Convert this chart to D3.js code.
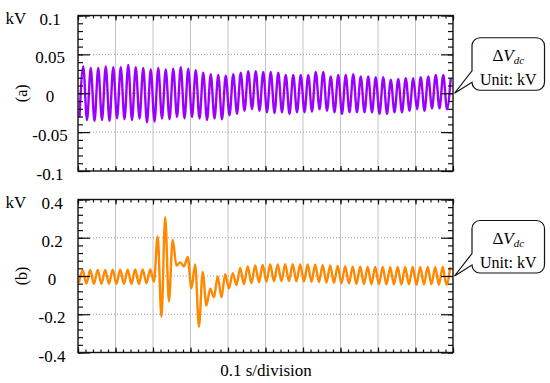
<!DOCTYPE html>
<html>
<head>
<meta charset="utf-8">
<script src="https://cdn.jsdelivr.net/npm/d3@7"></script>
<style>
  body { margin: 0; background: #fff; }
  svg { display: block; }
  text { font-family: "Liberation Serif", "Times New Roman", Times, "DejaVu Serif", serif; }
</style>
</head>
<body>
<div id="chart"></div>
<script>
// 0.1 s per division, 10 divisions
const timeDomain = [0, 1];
const halfCycle = 0.01; // ripple extrema come every half cycle (50 Hz)

// (a) dc voltage ripple, troughs and peaks read per cycle (kV)
const firstTroughA = 0.004;
const troughsA = [-0.0305, -0.0345, -0.0355, -0.0345, -0.0355, -0.0325, -0.0335, -0.0345, -0.0325, -0.0375,
  -0.0365, -0.0325, -0.0335, -0.0305, -0.0325, -0.0305, -0.0325, -0.0345, -0.0325, -0.0335,
  -0.0285, -0.0265, -0.0225, -0.0205, -0.0225, -0.0245, -0.0255, -0.0245, -0.0265, -0.0245,
  -0.0245, -0.0235, -0.0205, -0.0225, -0.0245, -0.0265, -0.0245, -0.0245, -0.0245, -0.0245,
  -0.0265, -0.0265, -0.0245, -0.0245, -0.0225, -0.0205, -0.0225, -0.0195, -0.0195, -0.0205];
const peaksA = [0.0345, 0.0325, 0.0325, 0.0345, 0.0335, 0.0335, 0.0365, 0.0335, 0.0325, 0.0305,
  0.0325, 0.0305, 0.0315, 0.0335, 0.0315, 0.0295, 0.0265, 0.0245, 0.0235, 0.0225,
  0.0245, 0.0265, 0.0285, 0.0285, 0.0275, 0.0275, 0.0265, 0.0235, 0.0235, 0.0235,
  0.0235, 0.0275, 0.0275, 0.0215, 0.0235, 0.0235, 0.0245, 0.0215, 0.0215, 0.0205,
  0.0205, 0.0175, 0.0185, 0.0195, 0.0195, 0.0205, 0.0215, 0.0235, 0.0235, 0.0195];

// (b) dc voltage with the disturbance (kV)
const firstTroughB = 0.0025;
const troughsB = [-0.035, -0.040, -0.041, -0.041, -0.041, -0.041, -0.041, -0.041, -0.041, -0.038,
  -0.030, -0.213, -0.133, 0.054, 0.050, -0.064, -0.265, -0.155, -0.112, -0.112,
  -0.065, -0.047, -0.042, -0.037, -0.033, -0.030, -0.028, -0.027, -0.027, -0.028,
  -0.029, -0.030, -0.032, -0.034, -0.036, -0.038, -0.040, -0.041, -0.042, -0.043,
  -0.043, -0.044, -0.044, -0.045, -0.044, -0.046, -0.045, -0.044, -0.046, -0.045];
const peaksB = [0.030, 0.031, 0.032, 0.032, 0.033, 0.033, 0.033, 0.034, 0.034, 0.034,
  0.207, 0.308, 0.190, 0.071, 0.100, 0.060, 0.021, -0.066, -0.002, 0.010,
  0.015, 0.042, 0.050, 0.055, 0.058, 0.060, 0.061, 0.062, 0.062, 0.061,
  0.060, 0.059, 0.057, 0.055, 0.053, 0.051, 0.049, 0.048, 0.047, 0.047,
  0.047, 0.046, 0.047, 0.046, 0.047, 0.046, 0.047, 0.046, 0.047, 0.046];

// y tick values and their labels
const ticksA = [0.1, 0.05, 0, -0.05, -0.1];
const labelsA = ["0.1", "0.05", "0", "-0.05", "-0.1"];
const ticksB = [0.4, 0.2, 0, -0.2, -0.4];
const labelsB = ["0.4", "0.2", "0", "-0.2", "-0.4"];

const width = 550, height = 383;
const left = 78, right = 453;
const serif = "'Liberation Serif', 'Times New Roman', Times, 'DejaVu Serif', serif";

const svg = d3.select("#chart").append("svg")
  .attr("width", width)
  .attr("height", height)
  .attr("font-family", serif);

const x = d3.scaleLinear().domain(timeDomain).range([left, right]);

// alternate trough / peak into [t, v] pairs
function extrema(t0, troughs, peaks) {
  const pts = [];
  troughs.forEach((v, k) => {
    pts.push([t0 + 2 * k * halfCycle, v]);
    pts.push([t0 + (2 * k + 1) * halfCycle, peaks[k]]);
  });
  return pts;
}

const panels = [
  { tag: "(a)", top: 15.5, bottom: 171, ticks: ticksA, labels: labelsA, minor: 0.01,
    data: extrema(firstTroughA, troughsA, peaksA), color: "#9b00ff", labelX: 50 },
  { tag: "(b)", top: 199.5, bottom: 352.5, ticks: ticksB, labels: labelsB, minor: 0.04,
    data: extrema(firstTroughB, troughsB, peaksB), color: "#ff8800", labelX: 52 }
];

panels.forEach((p, i) => {
  const lo = d3.min(p.ticks), hi = d3.max(p.ticks);
  const y = d3.scaleLinear().domain([lo, hi]).range([p.bottom, p.top]);
  const g = svg.append("g");

  // vertical grid (solid) and horizontal grid (dotted)
  g.append("g").selectAll("line")
    .data(x.ticks(10).slice(1, -1))
    .enter().append("line")
    .attr("x1", d => x(d)).attr("x2", d => x(d))
    .attr("y1", p.top).attr("y2", p.bottom)
    .attr("stroke", "#c4c4c4").attr("stroke-width", 1);

  g.append("g").selectAll("line")
    .data(p.ticks.slice(1, -1))
    .enter().append("line")
    .attr("x1", left).attr("x2", right)
    .attr("y1", d => y(d)).attr("y2", d => y(d))
    .attr("stroke", "#9a9a9a").attr("stroke-width", 1)
    .attr("stroke-dasharray", "1,2");

  // the waveform
  const clipId = "clip" + i;
  svg.append("clipPath").attr("id", clipId)
    .append("rect")
    .attr("x", left).attr("y", p.top)
    .attr("width", right - left).attr("height", p.bottom - p.top);

  const line = d3.line()
    .x(d => x(d[0]))
    .y(d => y(d[1]))
    .curve(d3.curveMonotoneX);

  g.append("path")
    .datum(p.data)
    .attr("clip-path", `url(#${clipId})`)
    .attr("fill", "none")
    .attr("stroke", p.color)
    .attr("stroke-width", 2.4)
    .attr("stroke-linejoin", "round")
    .attr("d", line);

  // inward ticks on all four sides
  const minorY = d3.range(lo, hi + 1e-9, p.minor);
  const axes = [
    [d3.axisBottom(x).tickValues(x.ticks(50)).tickSize(-3), `translate(0,${p.bottom})`],
    [d3.axisBottom(x).tickValues(x.ticks(10)).tickSize(-5), `translate(0,${p.bottom})`],
    [d3.axisTop(x).tickValues(x.ticks(50)).tickSize(-3), `translate(0,${p.top})`],
    [d3.axisTop(x).tickValues(x.ticks(10)).tickSize(-5), `translate(0,${p.top})`],
    [d3.axisLeft(y).tickValues(minorY).tickSize(-5), `translate(${left},0)`],
    [d3.axisLeft(y).tickValues(p.ticks).tickSize(-12), `translate(${left},0)`],
    [d3.axisRight(y).tickValues(minorY).tickSize(-5), `translate(${right},0)`],
    [d3.axisRight(y).tickValues(p.ticks).tickSize(-12), `translate(${right},0)`]
  ];
  axes.forEach(([ax, tr]) => {
    const a = g.append("g").attr("transform", tr).call(ax.tickFormat(""));
    a.select(".domain").remove();
    a.selectAll("line").attr("stroke", "#111").attr("stroke-width", 1.2);
  });

  // frame
  g.append("rect")
    .attr("x", left).attr("y", p.top)
    .attr("width", right - left).attr("height", p.bottom - p.top)
    .attr("fill", "none").attr("stroke", "#111").attr("stroke-width", 1.4);

  // y labels
  g.append("g").selectAll("text")
    .data(p.ticks)
    .enter().append("text")
    .attr("x", p.labelX)
    .attr("y", d => y(d) + 9)
    .attr("text-anchor", "middle")
    .attr("font-family", serif)
    .attr("font-size", 17)
    .text((d, j) => p.labels[j]);

  g.append("text")
    .attr("x", 16).attr("y", p.top + 8)
    .attr("text-anchor", "middle")
    .attr("font-family", serif)
    .attr("font-size", 17)
    .text("kV");

  g.append("text")
    .attr("transform", `translate(21,${y(0)}) rotate(-90)`)
    .attr("dy", "0.35em")
    .attr("text-anchor", "middle")
    .attr("font-family", serif)
    .attr("font-size", 16)
    .text(p.tag);

  // callout box pointing at the right edge
  const bw = 72.5, bh = 52.5, r = 8;
  const bx = right + 19, by = y(0) - 55.5;
  const tipX = right + 1.5, tipY = y(0);
  g.append("path")
    .attr("d", `M${bx + r},${by} H${bx + bw - r} A${r},${r} 0 0 1 ${bx + bw},${by + r}
      V${by + bh - r} A${r},${r} 0 0 1 ${bx + bw - r},${by + bh} H${bx + r}
      A${r},${r} 0 0 1 ${bx},${by + bh - r} L${tipX},${tipY} L${bx},${by + 33}
      V${by + r} A${r},${r} 0 0 1 ${bx + r},${by} Z`)
    .attr("fill", "#fff").attr("stroke", "#111").attr("stroke-width", 1.2);

  const title = g.append("text")
    .attr("x", bx + bw / 2).attr("y", by + 23)
    .attr("text-anchor", "middle")
    .attr("font-family", serif)
    .attr("font-size", 17);
  title.append("tspan").text("\u0394");
  title.append("tspan").attr("font-style", "italic").text("V");
  title.append("tspan").attr("font-style", "italic").attr("font-size", 11).attr("dy", 3).text("dc");

  g.append("text")
    .attr("x", bx + bw / 2).attr("y", by + 47)
    .attr("text-anchor", "middle")
    .attr("font-family", serif)
    .attr("font-size", 16)
    .text("Unit: kV");
});

svg.append("text")
  .attr("x", 266).attr("y", 375.5)
  .attr("text-anchor", "middle")
  .attr("font-family", serif)
  .attr("font-size", 17)
  .text("0.1 s/division");
</script>
</body>
</html>
